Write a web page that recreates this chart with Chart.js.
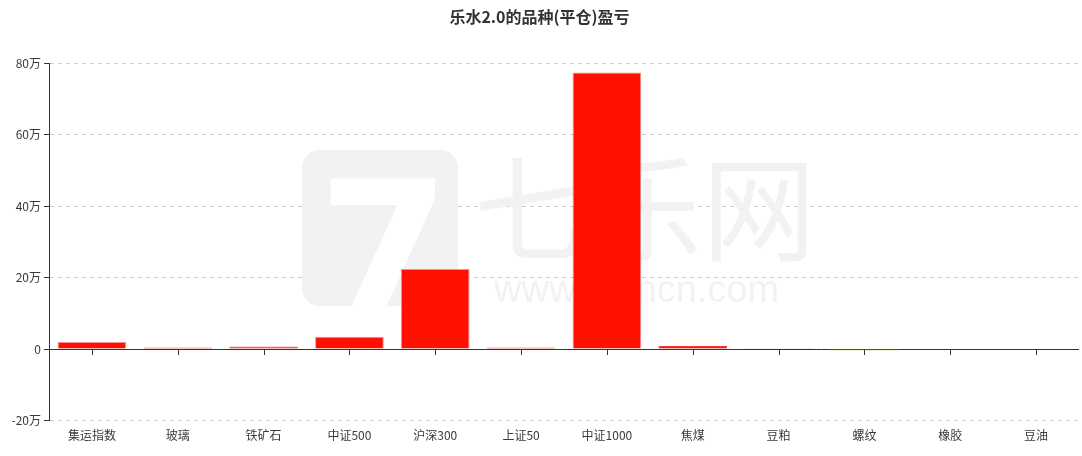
<!DOCTYPE html>
<html>
<head>
<meta charset="utf-8">
<script src="https://cdn.jsdelivr.net/npm/chart.js@4"></script>
<style>
  body { margin: 0; background: #fff; }
  #wrap { width: 1082px; height: 456px; position: relative; }
</style>
</head>
<body>
<div id="wrap"><canvas id="myChart"></canvas></div>
<script>
// categories and profit/loss (in 万)
const categories = ['集运指数', '玻璃', '铁矿石', '中证500', '沪深300', '上证50', '中证1000', '焦煤', '豆粕', '螺纹', '橡胶', '豆油'];
const profit = [1.97, 0.45, 0.7, 3.45, 22.45, 0.45, 77.4, 0.9, 0.3, -0.4, -0.05, -0.15];
const barColors = ['#ff1000', '#ff1000', '#ff1000', '#ff1000', '#ff1000', '#ff1000', '#ff1000', '#ff1000', '#f7b3b3', '#a8cc1c', '#55553a', '#4a5224'];
const edgeColors = ['#ff8c8c', '#ff5a50', '#ff5a50', '#ff8c8c', '#ff8c8c', '#ff5a50', '#ff8c8c', '#ff3a30', '#f7b3b3', '#a8cc1c', '#55553a', '#4a5224'];
const yTicks = [-20, 0, 20, 40, 60, 80];

const fontFamily = '"Noto Sans CJK SC", "Noto Sans", sans-serif';

// faint watermark + zero line behind the bars
const background = {
    id: 'background',
    beforeDatasetsDraw(chart) {
        const c = chart.ctx;
        c.save();
        c.fillStyle = '#f2f2f2';
        c.beginPath();
        c.roundRect(302, 150, 156, 156, 18);
        c.fill();
        c.fillStyle = '#fff';
        c.font = 'bold 190px "DejaVu Sans", sans-serif';
        c.fillText('7', 318, 318);
        c.fillStyle = '#f2f2f2';
        c.font = '114px ' + fontFamily;
        c.fillText('七乐网', 474, 252);
        c.font = '38px "Liberation Sans", sans-serif';
        c.fillText('www.7lencn.com', 494, 302);

        const y0 = Math.round(chart.scales.y.getPixelForValue(0)) + 0.5;
        c.strokeStyle = '#333';
        c.lineWidth = 1;
        c.beginPath();
        c.moveTo(chart.chartArea.left, y0);
        c.lineTo(chart.chartArea.right, y0);
        c.stroke();
        c.restore();
    }
};

// x-axis ticks hanging from the zero line
const zeroTicks = {
    id: 'zeroTicks',
    afterDatasetsDraw(chart) {
        const x = chart.scales.x;
        const y0 = Math.round(chart.scales.y.getPixelForValue(0));
        const c = chart.ctx;
        c.save();
        c.strokeStyle = '#333';
        c.lineWidth = 1;
        c.beginPath();
        categories.forEach((_, i) => {
            const px = Math.round(x.getPixelForValue(i)) + 0.5;
            c.moveTo(px, y0 + 1);
            c.lineTo(px, y0 + 6);
        });
        c.stroke();
        c.restore();
    }
};

new Chart(document.getElementById('myChart').getContext('2d'), {
    type: 'bar',
    data: {
        labels: categories,
        datasets: [{
            label: '盈亏',
            data: profit,
            backgroundColor: barColors,
            borderColor: edgeColors,
            borderWidth: 1,
            borderSkipped: 'start',
            categoryPercentage: 0.8,
            barPercentage: 1
        }]
    },
    options: {
        responsive: true,
        maintainAspectRatio: false,
        animation: false,
        layout: { padding: { left: 0, right: 3, top: 0, bottom: 13 } },
        plugins: {
            legend: { display: false },
            tooltip: { enabled: false },
            title: {
                display: true,
                text: '乐水2.0的品种(平仓)盈亏',
                color: '#333',
                font: { family: fontFamily, size: 16, weight: 'bold' },
                padding: { top: 7, bottom: 37 }
            }
        },
        scales: {
            x: {
                grid: { display: false },
                border: { display: false },
                ticks: {
                    color: '#3a3a3a',
                    font: { family: fontFamily, size: 12 },
                    padding: 0,
                    maxRotation: 0
                }
            },
            y: {
                min: -20,
                max: 80,
                afterBuildTicks(scale) {
                    scale.ticks = yTicks.map(v => ({ value: v }));
                },
                afterFit(scale) { scale.width = 49; },
                grid: {
                    color: ctx => ctx.tick && ctx.tick.value === 0 ? 'rgba(0,0,0,0)' : '#cccccc',
                    tickColor: '#333',
                    tickLength: 5
                },
                border: {
                    display: true,
                    color: '#333',
                    dash: [4, 4]
                },
                ticks: {
                    color: '#3a3a3a',
                    font: { family: fontFamily, size: 12 },
                    padding: 3,
                    callback: v => v === 0 ? '0' : v + '万'
                }
            }
        }
    },
    plugins: [background, zeroTicks]
});
</script>
</body>
</html>
